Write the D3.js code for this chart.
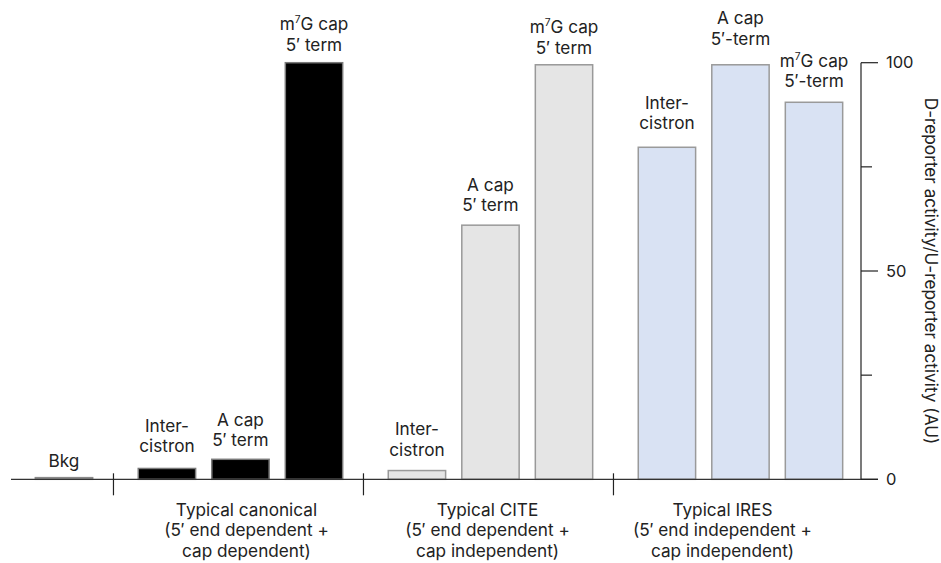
<!DOCTYPE html>
<html>
<head>
<meta charset="utf-8">
<script src="https://cdn.jsdelivr.net/npm/d3@7"></script>
<style>
  html, body { margin: 0; padding: 0; background: #fff; }
  svg { display: block; }
  text { font-family: Inter, Roboto, "Noto Sans", sans-serif; fill: #222; }
</style>
</head>
<body>
<svg id="chart" width="941" height="563"></svg>
<script>
// ---------- data ----------
const groups = ["Bkg", "Typical canonical", "Typical CITE", "Typical IRES"];
const groupSubtitles = [
  [],
  ["Typical canonical", "(5\u2032 end dependent +", "cap dependent)"],
  ["Typical CITE", "(5\u2032 end dependent +", "cap independent)"],
  ["Typical IRES", "(5\u2032 end independent +", "cap independent)"]
];
// bars: group index, member index within group, label lines, value
const barGroup  = [0, 1, 1, 1, 2, 2, 2, 3, 3, 3];
const barMember = [0, 0, 1, 2, 0, 1, 2, 0, 1, 2];
const barLabels = [
  ["Bkg"],
  ["Inter-", "cistron"], ["A cap", "5\u2032 term"], ["m7G cap", "5\u2032 term"],
  ["Inter-", "cistron"], ["A cap", "5\u2032 term"], ["m7G cap", "5\u2032 term"],
  ["Inter-", "cistron"], ["A cap", "5\u2032-term"], ["m7G cap", "5\u2032-term"]
];
const values = [0.4, 2.6, 4.8, 100, 2.1, 61, 99.5, 79.7, 99.5, 90.5];
const yTicksMajor = [0, 50, 100];
const yTicksMinor = [25, 75];
const yTitle = "D-reporter activity/U-reporter activity (AU)";

// ---------- layout ----------
const groupFill   = ["#9a9a9a", "#000000", "#e5e5e5", "#d9e2f3"];
const groupStroke = ["#8a8a8a", "#7a7a7a", "#999999", "#9a9a9a"];
const groupGap = 0.4;           // extra gap between groups, in bar steps
const groupLabelShift = [0, 6, -3, -18];
const labelGap = [11, 16, 13, 12, 15, 14, 11, 18, 20, 15]; // px between bar top and its label

// slot position of each bar along x (in bar steps)
const slot = barGroup.map((g, i) => g === 0 ? 0 : (1 + groupGap) + (g - 1) * (3 + groupGap) + barMember[i]);
const maxSlot = d3.max(slot);

const svg = d3.select("#chart");
const x = d3.scaleLinear().domain([0, maxSlot]).range([64, 814]);
const step = x(1) - x(0);
const barW = step * 0.78;
const y = d3.scaleLinear().domain([0, 100]).range([479.3, 62.7]);
const axisX = 861;
const fs = 17.2;

// bars
svg.append("g").selectAll("rect")
  .data(values)
  .join("rect")
  .attr("x", (d, i) => x(slot[i]) - barW / 2)
  .attr("width", barW)
  .attr("y", d => y(d))
  .attr("height", d => y(0) - y(d))
  .attr("fill", (d, i) => groupFill[barGroup[i]])
  .attr("stroke", (d, i) => groupStroke[barGroup[i]])
  .attr("stroke-width", 1.5);

// baseline
svg.append("line")
  .attr("x1", 11).attr("x2", axisX + 17)
  .attr("y1", y(0)).attr("y2", y(0))
  .attr("stroke", "#333").attr("stroke-width", 1.2);

// group separators
const sepSlots = [1, 2, 3].map(g => {
  const first = slot[barGroup.indexOf(g)];
  const prevLast = slot[barGroup.lastIndexOf(g - 1)];
  return (first + prevLast) / 2;
});
svg.append("g").selectAll("line")
  .data(sepSlots)
  .join("line")
  .attr("x1", d => x(d) - 2).attr("x2", d => x(d) - 2)
  .attr("y1", y(0) - 6).attr("y2", y(0) + 16)
  .attr("stroke", "#222").attr("stroke-width", 1.2);

// bar labels
const lineH = 20.3;
const labelG = svg.append("g");
values.forEach((v, i) => {
  const lines = barLabels[i];
  const cx = x(slot[i]);
  const bottom = y(v) - labelGap[i];
  lines.forEach((ln, j) => {
    const t = labelG.append("text")
      .attr("x", cx)
      .attr("y", bottom - (lines.length - 1 - j) * lineH)
      .attr("text-anchor", "middle")
      .attr("font-size", fs);
    if (ln.startsWith("m7G")) {
      t.append("tspan").text("m");
      t.append("tspan").attr("font-size", fs * 0.6).attr("dy", -7).text("7");
      t.append("tspan").attr("dy", 7).text(ln.slice(2));
    } else {
      t.text(ln);
    }
  });
});

// group labels
groups.forEach((g, gi) => {
  if (gi === 0) return;
  const idx = barGroup.map((d, i) => d === gi ? i : -1).filter(i => i >= 0);
  const cx = d3.mean(idx, i => x(slot[i])) + groupLabelShift[gi];
  groupSubtitles[gi].forEach((ln, j) => {
    svg.append("text")
      .attr("x", cx)
      .attr("y", 516 + j * lineH)
      .attr("text-anchor", "middle")
      .attr("font-size", fs)
      .text(ln);
  });
});

// y axis (right side)
const ax = svg.append("g");
ax.append("line")
  .attr("x1", axisX).attr("x2", axisX)
  .attr("y1", y(100)).attr("y2", y(0))
  .attr("stroke", "#222").attr("stroke-width", 1.2);
ax.selectAll(".maj").data(yTicksMajor).join("line")
  .attr("x1", axisX).attr("x2", axisX + 17)
  .attr("y1", d => y(d)).attr("y2", d => y(d))
  .attr("stroke", "#222").attr("stroke-width", 1.2);
ax.selectAll(".min").data(yTicksMinor).join("line")
  .attr("x1", axisX).attr("x2", axisX + 11)
  .attr("y1", d => y(d)).attr("y2", d => y(d))
  .attr("stroke", "#222").attr("stroke-width", 1.2);
ax.selectAll("text").data(yTicksMajor).join("text")
  .attr("x", axisX + 25)
  .attr("y", d => y(d))
  .attr("dy", "0.35em")
  .attr("font-size", 16.5)
  .text(d => d);

// y title (rotated clockwise)
svg.append("text")
  .attr("transform", `translate(${925},${(y(0) + y(100)) / 2}) rotate(90)`)
  .attr("text-anchor", "middle")
  .attr("font-size", fs)
  .text(yTitle);
</script>
</body>
</html>
